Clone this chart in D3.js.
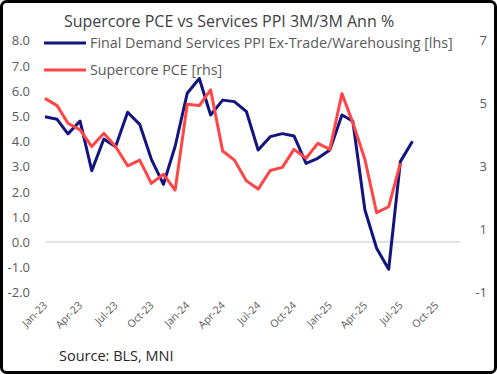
<!DOCTYPE html>
<html>
<head>
<meta charset="UTF-8">
<title>Supercore PCE vs Services PPI</title>
<script src="https://d3js.org/d3.v7.min.js"></script>
<style>
body { margin: 0; background: #fff; }
text { font-family: "Open Sans", sans-serif; }
</style>
</head>
<body>
<figure class=chart style="margin:0"></figure>

<script type="text/javascript">

/* Data */
var months = ['2023-01','2023-02','2023-03','2023-04','2023-05','2023-06','2023-07','2023-08','2023-09','2023-10','2023-11','2023-12',
	'2024-01','2024-02','2024-03','2024-04','2024-05','2024-06','2024-07','2024-08','2024-09','2024-10','2024-11','2024-12',
	'2025-01','2025-02','2025-03','2025-04','2025-05','2025-06','2025-07','2025-08']
var ppiServices = [4.97, 4.87, 4.29, 4.80, 2.83, 4.09, 3.78, 5.15, 4.67, 3.28, 2.29, 3.80,
	5.90, 6.49, 5.04, 5.63, 5.57, 5.17, 3.65, 4.18, 4.30, 4.21, 3.12, 3.32,
	3.65, 5.04, 4.79, 1.27, -0.25, -1.08, 3.19, 4.00]
var supercorePce = [5.16, 4.93, 4.37, 4.16, 3.63, 4.05, 3.63, 3.02, 3.20, 2.46, 2.75, 2.25,
	4.97, 4.93, 5.43, 3.49, 3.20, 2.54, 2.28, 2.87, 2.97, 3.54, 3.26, 3.73,
	3.54, 5.31, 4.39, 3.22, 1.53, 1.72, 3.10]
var leftTicks = [8, 7, 6, 5, 4, 3, 2, 1, 0, -1, -2]
var rightTicks = [7, 5, 3, 1, -1]
var xTicks = ['2023-01','2023-04','2023-07','2023-10','2024-01','2024-04','2024-07','2024-10','2025-01','2025-04','2025-07','2025-10']

/* Global variables */
var W = 497, H = 374
var parseMonth = d3.timeParse('%Y-%m')
var x = d3.scaleTime()
	.domain([parseMonth('2023-01'), parseMonth('2025-12')])
	.range([45, 460])
var yLeft = d3.scaleLinear().domain([-2, 8]).range([292.4, 40.4])
var yRight = d3.scaleLinear().domain([-1, 7]).range([292.4, 40.4])
var blue = '#13147f'
var red = '#ff4545'
var grey = '#595959'

/* Functions */

function draw_canvas() {
	var svg = d3.select('figure')
		.append('svg')
		.attr('width', W)
		.attr('height', H)

	svg.append('rect')
		.attr('x', 1.5)
		.attr('y', 1.5)
		.attr('width', W - 3)
		.attr('height', H - 3)
		.attr('rx', 5)
		.style('fill', '#fff')
		.style('stroke', 'black')
		.style('stroke-width', 3)
}

function draw_axes() {
	var svg = d3.select('svg')

	// zero line only, no other gridlines
	svg.append('line')
		.attr('x1', x.range()[0] + 1)
		.attr('x2', x.range()[1])
		.attr('y1', yLeft(0))
		.attr('y2', yLeft(0))
		.style('stroke', '#d9d9d9')
		.style('stroke-width', 1.5)

	svg.append('g').selectAll('text')
		.data(leftTicks)
		.enter()
		.append('text')
		.attr('x', 30)
		.attr('y', function(d) { return yLeft(d) + 5; })
		.attr('text-anchor', 'end')
		.style('font-size', '13px')
		.style('fill', grey)
		.text(function(d) { return d3.format('.1f')(d).replace('−', '-'); })

	svg.append('g').selectAll('text')
		.data(rightTicks)
		.enter()
		.append('text')
		.attr('x', 487)
		.attr('y', function(d) { return yRight(d) + 5; })
		.attr('text-anchor', 'end')
		.style('font-size', '13px')
		.style('fill', grey)
		.text(function(d) { return String(d); })

	var fmt = d3.timeFormat('%b-%y')
	svg.append('g').selectAll('text')
		.data(xTicks)
		.enter()
		.append('text')
		.attr('transform', function(d) {
			return 'translate(' + (x(parseMonth(d)) + 3) + ',306) rotate(-45)';
		})
		.attr('text-anchor', 'end')
		.style('font-size', '10.5px')
		.style('fill', grey)
		.text(function(d) { return fmt(parseMonth(d)); })
}

function draw_lines() {
	var svg = d3.select('svg')

	var lineL = d3.line()
		.x(function(d, i) { return x(parseMonth(months[i])); })
		.y(function(d) { return yLeft(d); })
	var lineR = d3.line()
		.x(function(d, i) { return x(parseMonth(months[i])); })
		.y(function(d) { return yRight(d); })

	svg.append('path')
		.attr('d', lineL(ppiServices))
		.style('fill', 'none')
		.style('stroke', blue)
		.style('stroke-width', 3)
		.style('stroke-linejoin', 'round')

	svg.append('path')
		.attr('d', lineR(supercorePce))
		.style('fill', 'none')
		.style('stroke', red)
		.style('stroke-width', 3)
		.style('stroke-linejoin', 'round')
}

function draw_labels() {
	var svg = d3.select('svg')

	svg.append('text')
		.attr('x', 229)
		.attr('y', 27)
		.attr('text-anchor', 'middle')
		.style('font-size', '16px')
		.style('fill', '#404040')
		.text('Supercore PCE vs Services PPI 3M/3M Ann %')

	var legend = [
		{ name: 'Final Demand Services PPI Ex-Trade/Warehousing [lhs]', color: blue, y: 43 },
		{ name: 'Supercore PCE [rhs]', color: red, y: 70 }
	]
	var g = svg.append('g').selectAll('g')
		.data(legend)
		.enter()
		.append('g')
	g.append('line')
		.attr('x1', 44).attr('x2', 86)
		.attr('y1', function(d) { return d.y; })
		.attr('y2', function(d) { return d.y; })
		.style('stroke', function(d) { return d.color; })
		.style('stroke-width', 3)
	g.append('text')
		.attr('x', 90)
		.attr('y', function(d) { return d.y + 5; })
		.style('font-size', '14.3px')
		.style('fill', grey)
		.text(function(d) { return d.name; })

	svg.append('text')
		.attr('x', 59)
		.attr('y', 361)
		.style('font-size', '14.5px')
		.style('fill', '#262626')
		.text('Source: BLS, MNI')
}

/* Main code */
draw_canvas()
draw_axes()
draw_lines()
draw_labels()

</script>
</body>
</html>
